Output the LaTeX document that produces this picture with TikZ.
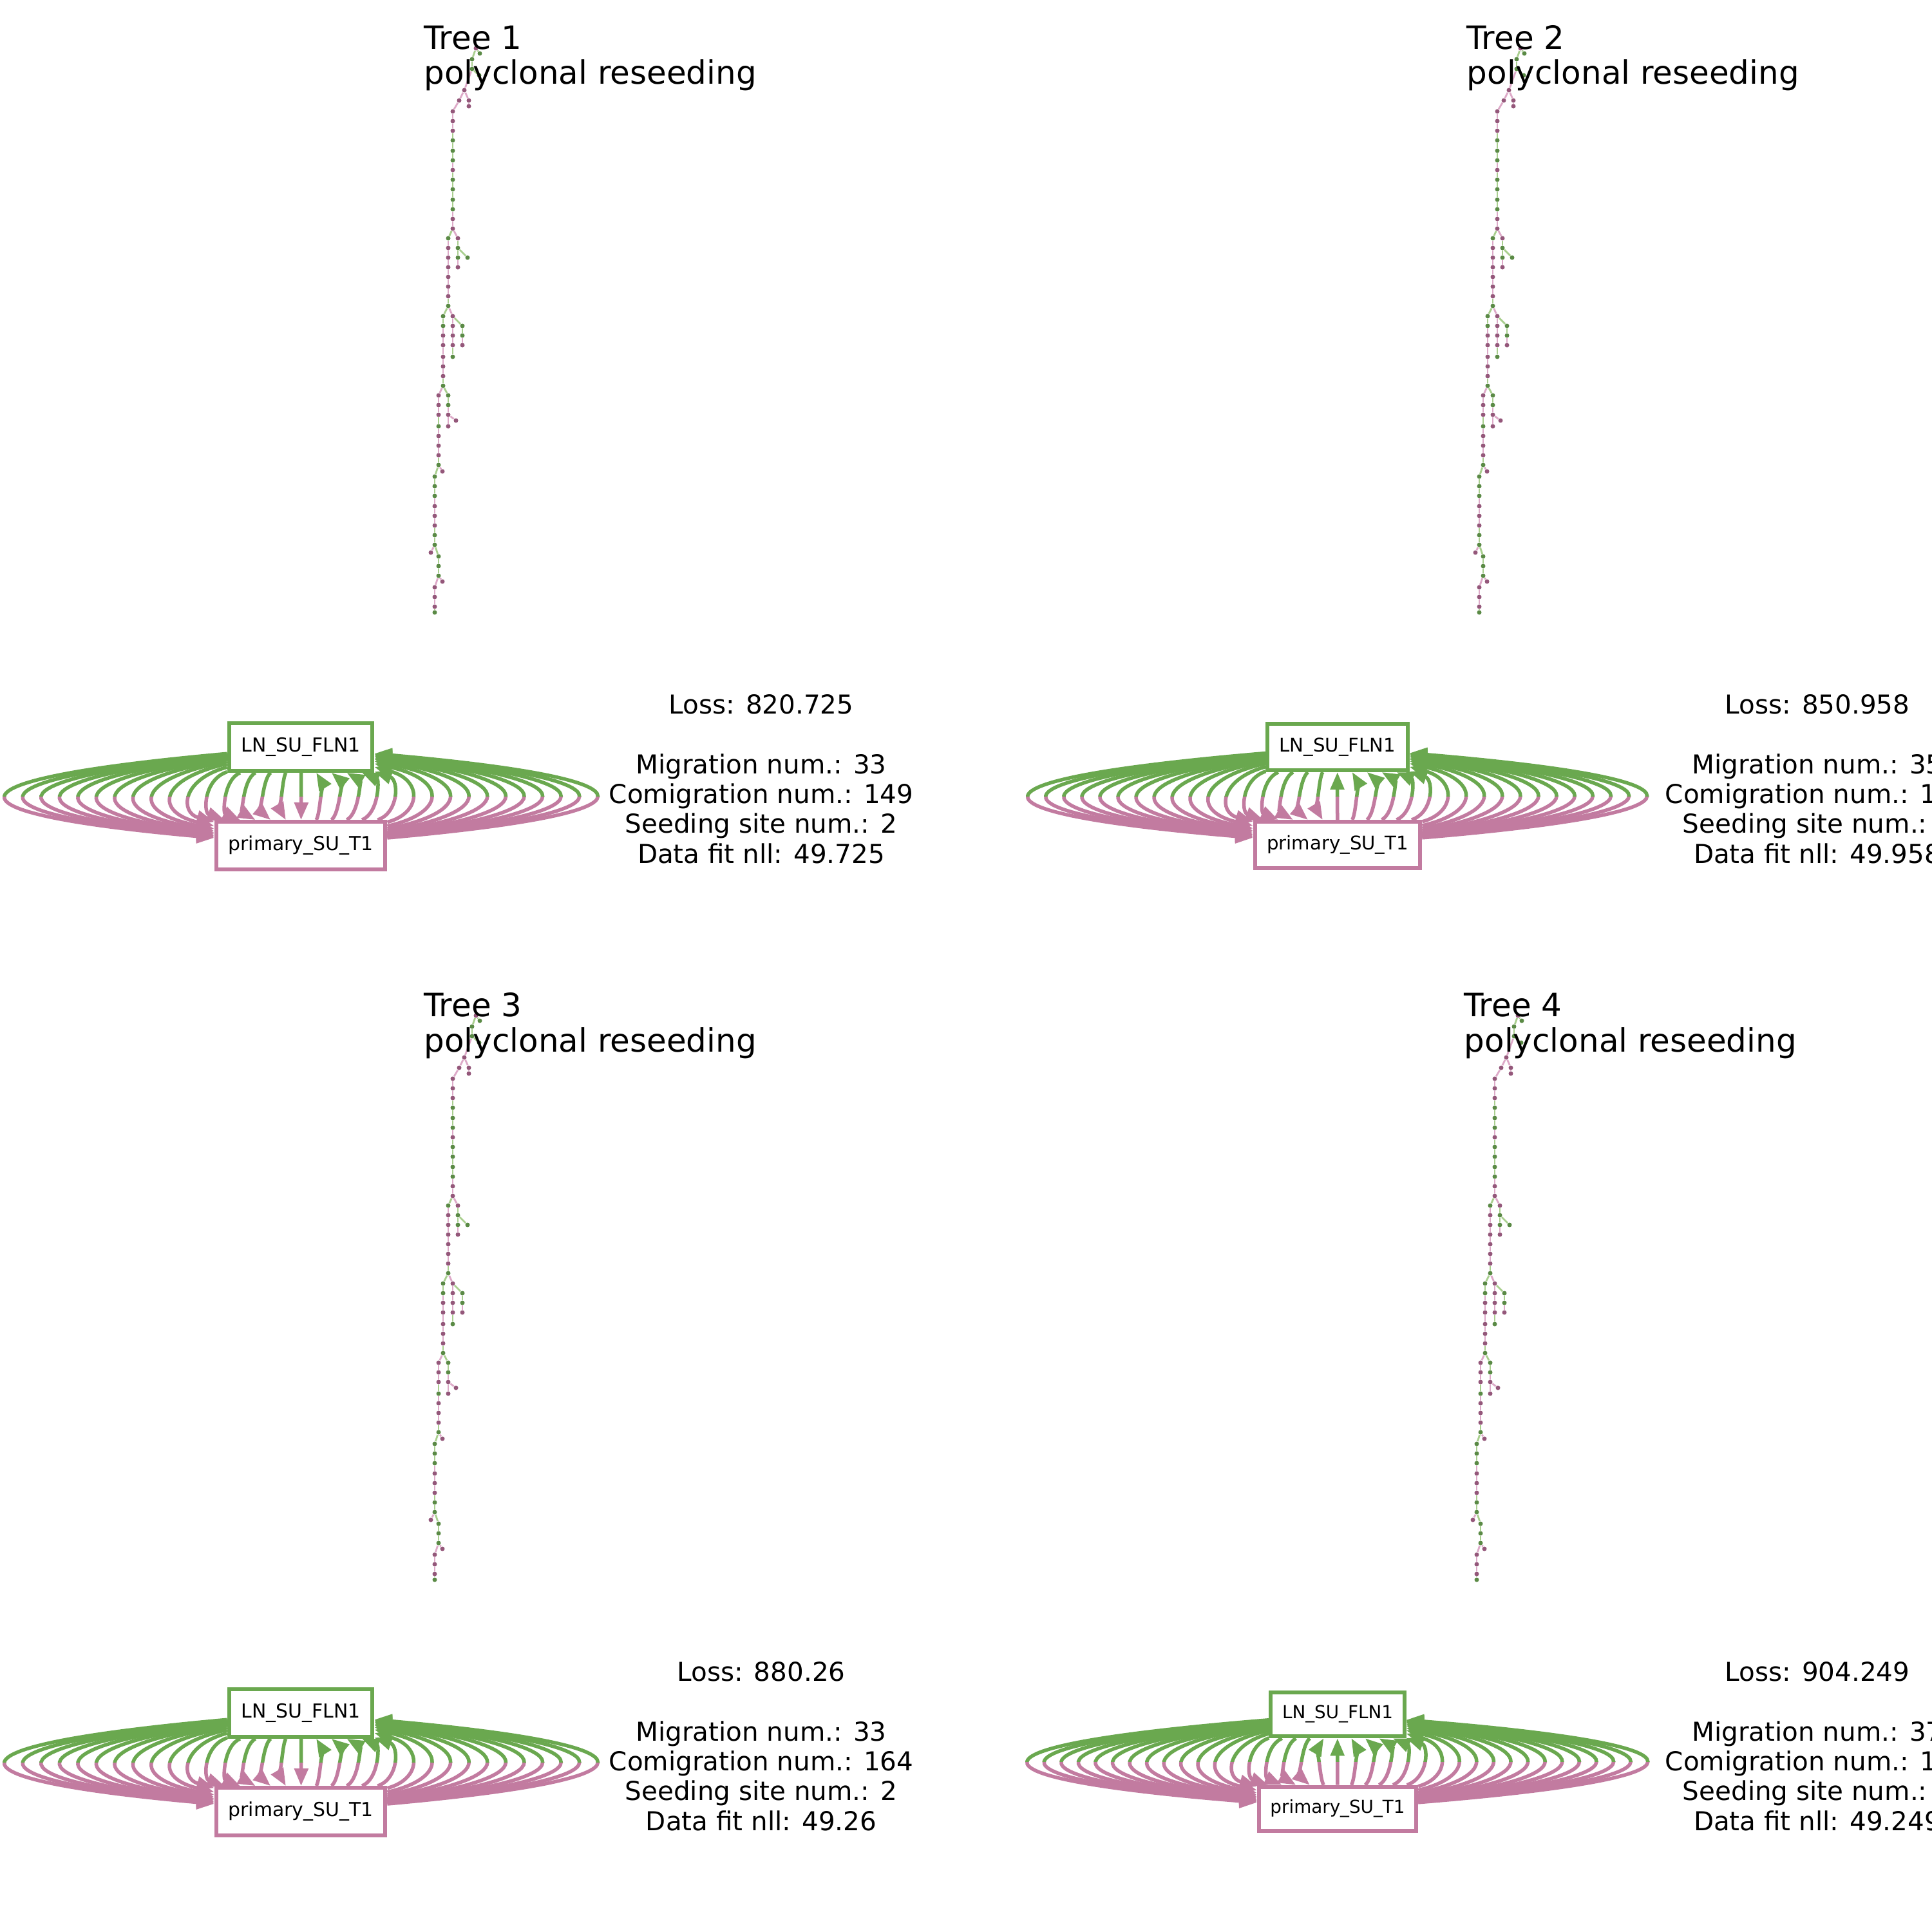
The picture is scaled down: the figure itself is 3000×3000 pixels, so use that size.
\documentclass[tikz,border=0pt]{standalone}
\usepackage{fontspec}
\setmainfont{DejaVu Sans}
\usetikzlibrary{arrows.meta}

\definecolor{lngreen}{HTML}{6AA84F}
\definecolor{prpink}{HTML}{C27BA0}
\definecolor{dotg}{HTML}{5A8A45}
\definecolor{dotp}{HTML}{94577A}
\definecolor{edgeg}{HTML}{A9CF8E}
\definecolor{edgep}{HTML}{DDA9C8}

\newdimen\migdim

\tikzset{
  sitebox/.style 2 args={draw=#1, line width=0.06cm, fill=white,
    font=\fontsize{#2}{#2}\selectfont, inner xsep={0.634*#2pt}, inner ysep={0.765*#2pt},
    text height={0.72*#2pt}, text depth={0.22*#2pt}},
  migarc/.style={draw=#1, line width=0.055cm, -{Triangle[length=0.27cm,width=0.21cm]}},
  treedot/.style={circle, fill=#1, inner sep=0pt, minimum size=0.07cm},
  treeedge/.style={draw=#1, line width=0.028cm},
  paneltitle/.style={anchor=base west, align=left, inner sep=0pt, font=\fontsize{14.2}{15.6}\selectfont},
  panelstats/.style={anchor=base, align=center, inner sep=0pt, font=\fontsize{11.5}{13.1}\selectfont}
}

% clone tree: name/x/y/colour/parent
\def\treelist{2/751/83/g/1, 3/739/92/g/1, 4/739/107/g/3, 5/750/117/g/4, 6/727/140/p/4,
  7/719/156/p/6, 8/734/156/p/6, 9/734/165/p/8, 10/709/173/p/7, 11/709/188/p/10,
  12/709/203/p/11, 13/709/218/g/12, 14/709/234/g/13, 15/709/249/g/14, 16/709/264/p/15,
  17/709/279/g/16, 18/709/294/g/17, 19/709/310/g/18, 20/709/325/g/19, 21/709/340/p/20,
  22/709/355/p/21, 23/702/370/g/22, 24/717/370/p/22, 25/702/385/p/23, 26/702/400/p/25,
  27/702/415/p/26, 28/702/430/p/27, 29/702/445/p/28, 30/702/460/p/29, 31/702/475/g/30,
  32/717/385/g/24, 33/732/400/g/32, 34/717/400/g/32, 35/717/415/p/34, 36/694/491/g/31,
  37/709/491/p/31, 38/724/506/g/37, 39/694/506/g/36, 40/694/521/p/39, 41/694/536/p/40,
  42/694/554/p/41, 43/694/569/p/42, 44/694/584/p/43, 45/694/599/g/44, 46/709/506/p/37,
  47/709/521/p/46, 48/709/536/p/47, 49/709/554/g/48, 50/724/521/g/38, 51/724/536/p/50,
  52/687/614/p/45, 53/702/614/g/45, 54/702/629/g/53, 55/702/644/p/54, 56/702/662/p/55,
  57/714/653/p/55, 58/687/629/p/52, 59/687/644/p/58, 60/687/662/g/59, 61/687/677/p/60,
  62/687/692/p/61, 63/687/707/p/62, 64/687/722/g/63, 65/693/732/p/64, 66/681/740/g/64,
  67/681/755/g/66, 68/681/770/g/67, 69/681/786/p/68, 70/681/801/p/69, 71/681/816/p/70,
  72/681/831/g/71, 73/681/846/g/72, 74/675/858/p/73, 75/687/864/g/73, 76/687/879/g/75,
  77/687/894/g/76, 78/693/903/p/77, 79/681/912/p/77, 80/681/927/p/79, 81/681/942/p/80,
  82/681/951/g/81}

\newcommand{\clonetree}[3]{%
  \begin{scope}[shift={(#2,#3)}]
    \node[treedot=dotp] (#1t1) at (745,75) {};
    \foreach \nd/\px/\py/\col/\up in \treelist
      \node[treedot=dot\col] (#1t\nd) at (\px,\py) {};
    \foreach \nd/\px/\py/\col/\up in \treelist
      \draw[treeedge=edge\col] (#1t\up) -- (#1t\nd);
  \end{scope}}

% control offset so that the arc reaches its target width
\newcommand{\migfix}{%
  \pgfmathsetmacro\sa{min(\lnhw/max(abs(\ox),0.01),\lnhh/\lnv)}%
  \pgfmathsetmacro\sb{min(\prhw/max(abs(\ox),0.01),\prhh/\prv)}%
  \pgfmathsetmacro\ox{\dd/(0.75+0.125*(\sa+\sb))}}

% arcs between the two sites, first 17 go down
\newcommand{\migarcs}[1]{%
  \foreach \i in {0,...,\arclast} {
    \pgfmathsetmacro\dd{\arcfirst+\i*\arcstep-\ctrx}
    \pgfmathsetmacro\ox{4/3*\dd}
    \migfix\migfix\migfix
    \pgfmathsetmacro\cx{\ctrx+\ox}
    \ifnum\i<17
      \draw[migarc=#1] (\pfx ln) .. controls (\cx,\lnc) and (\cx,\prc) .. (\pfx pr);
    \else
      \draw[migarc=#1] (\pfx pr) .. controls (\cx,\prc) and (\cx,\lnc) .. (\pfx ln);
    \fi
  }}

\newcommand{\migration}[8]{%
  \def\pfx{#1}\def\ctrx{#2}\def\arcfirst{#5}\def\arcstep{#6}\def\arclast{#7}
  \pgfmathsetmacro\ymid{(#3+#4)/2}
  \pgfmathsetmacro\lnc{#3+2/3*(\ymid-#3)}
  \pgfmathsetmacro\prc{#4+2/3*(\ymid-#4)}
  \pgfmathsetmacro\lnv{\lnc-#3}
  \pgfmathsetmacro\prv{#4-\prc}
  \node[sitebox={lngreen}{#8}] (#1ln) at (#2,#3) {LN\_SU\_FLN1};
  \node[sitebox={prpink}{#8}] (#1pr) at (#2,#4) {primary\_SU\_T1};
  \pgfextractx{\migdim}{\pgfpointdiff{\pgfpointanchor{#1ln}{center}}{\pgfpointanchor{#1ln}{east}}}
  \pgfmathsetmacro\lnhw{abs(\migdim)/0.284528}
  \pgfextracty{\migdim}{\pgfpointdiff{\pgfpointanchor{#1ln}{center}}{\pgfpointanchor{#1ln}{north}}}
  \pgfmathsetmacro\lnhh{abs(\migdim)/0.284528}
  \pgfextractx{\migdim}{\pgfpointdiff{\pgfpointanchor{#1pr}{center}}{\pgfpointanchor{#1pr}{east}}}
  \pgfmathsetmacro\prhw{abs(\migdim)/0.284528}
  \pgfextracty{\migdim}{\pgfpointdiff{\pgfpointanchor{#1pr}{center}}{\pgfpointanchor{#1pr}{north}}}
  \pgfmathsetmacro\prhh{abs(\migdim)/0.284528}
  \begin{scope}
    \clip (0,\ymid) rectangle (3000,3000);
    \migarcs{prpink}
  \end{scope}
  \begin{scope}
    \clip (0,0) rectangle (3000,\ymid);
    \migarcs{lngreen}
  \end{scope}}

\begin{document}
\begin{tikzpicture}[x=0.01cm,y=-0.01cm]
\fill[white] (0,0) rectangle (3000,3000);
\useasboundingbox (0,0) rectangle (3000,3000);

% trees
\clonetree{A}{-6}{0}
\clonetree{B}{1616}{0}
\clonetree{C}{-6}{1502}
\clonetree{D}{1612}{1502}

% titles
\node[paneltitle] (titleA) at (658,131) {Tree 1\\polyclonal reseeding};
\node[paneltitle] (titleB) at (2277,131) {Tree 2\\polyclonal reseeding};
\node[paneltitle] (titleC) at (658,1633) {Tree 3\\polyclonal reseeding};
\node[paneltitle] (titleD) at (2273,1633) {Tree 4\\polyclonal reseeding};

% migration graphs
\migration{A}{467}{1160}{1313}{10}{28.6}{32}{8.5}
\migration{B}{2077}{1160}{1312}{1599}{28.1}{34}{8.3}
\migration{C}{467}{2660}{2813}{10}{28.6}{32}{8.5}
\migration{D}{2077}{2662}{2809}{1598}{26.6}{36}{7.9}

% scores
\node[panelstats] (statsA) at (1182,1340) {Loss: 820.725\\[13.3pt]Migration num.: 33\\Comigration num.: 149\\Seeding site num.: 2\\Data fit nll: 49.725};
\node[panelstats] (statsB) at (2822,1340) {Loss: 850.958\\[13.3pt]Migration num.: 35\\Comigration num.: 1\phantom{00}\\Seeding site num.:\phantom{ 0}\\Data fit nll: 49.958};
\node[panelstats] (statsC) at (1182,2842) {Loss: 880.26\\[13.3pt]Migration num.: 33\\Comigration num.: 164\\Seeding site num.: 2\\Data fit nll: 49.26};
\node[panelstats] (statsD) at (2822,2842) {Loss: 904.249\\[13.3pt]Migration num.: 37\\Comigration num.: 1\phantom{00}\\Seeding site num.:\phantom{ 0}\\Data fit nll: 49.249};
\end{tikzpicture}
\end{document}
